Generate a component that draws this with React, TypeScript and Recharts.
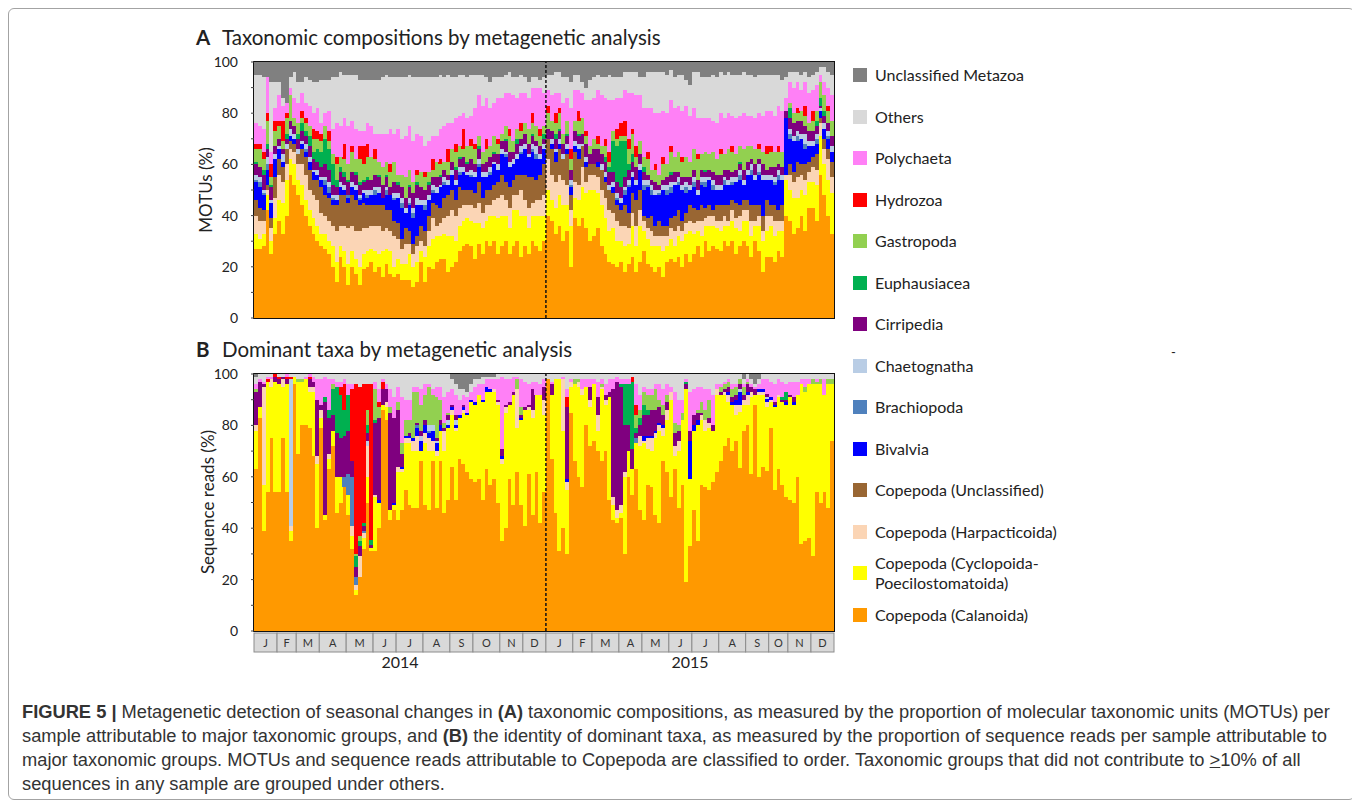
import { Bar, BarChart, ReferenceArea, ReferenceLine, XAxis, YAxis } from "recharts";

// sampling calendar: number of samples in each month, Jan..Dec
const monthLetters = ["J", "F", "M", "A", "M", "J", "J", "A", "S", "O", "N", "D"];
const samples2014 = [6, 5, 6, 7, 7, 6, 7, 7, 6, 7, 6, 6];
const samples2015 = [7, 5, 7, 6, 7, 6, 7, 7, 6, 5, 6, 6];
const yearLabels = ["2014", "2015"];
const yTicks = [0, 0.1, 0.2, 0.3, 0.4, 0.5, 0.6, 0.7, 0.8, 0.9, 1];

// ---- (A) MOTUs per sample, % ----
const motuCal = [
  27, 27, 28, 42, 25, 33, 38, 33, 40, 56, 52, 48, 44, 40, 36, 33, 30, 28, 27, 25, 20, 14, 24, 20, 13, 20, 17, 13, 19, 20, 22, 18, 20, 16, 21, 17, 16, 17, 15, 15, 15, 12, 14, 22, 14, 20, 19, 22, 23, 23, 18, 20, 22, 26, 28, 29, 28, 23, 29, 25, 30, 28, 30, 25, 28, 30, 25, 28, 30, 24, 28, 25, 30, 28, 26, 30,
  40, 38, 33, 36, 30, 34, 20, 39, 36, 39, 35, 30, 32, 35, 28, 25, 22, 21, 20, 22, 18, 21, 24, 18, 22, 26, 21, 20, 18, 20, 16, 22, 23, 22, 24, 20, 25, 22, 25, 28, 24, 30, 26, 28, 27, 26, 30, 28, 30, 25, 28, 30, 28, 24, 30, 26, 18, 24, 24, 22, 26, 24, 40, 38, 33, 35, 40, 34, 43, 43, 38, 56, 48, 40, 33,
];
const motuCyc = [
  6, 4, 5, 6, 5, 6, 8, 12, 14, 6, 8, 6, 8, 6, 6, 6, 6, 5, 6, 5, 8, 8, 4, 6, 8, 6, 6, 7, 6, 6, 5, 8, 5, 10, 6, 9, 4, 6, 6, 6, 10, 8, 8, 4, 10, 8, 12, 10, 9, 10, 14, 12, 8, 10, 10, 10, 10, 14, 8, 10, 8, 12, 10, 14, 12, 10, 10, 14, 12, 16, 12, 10, 10, 12, 14, 10,
  10, 8, 10, 12, 14, 10, 16, 8, 10, 12, 14, 20, 18, 14, 16, 14, 12, 14, 10, 8, 10, 8, 12, 10, 14, 8, 10, 8, 10, 8, 10, 6, 8, 6, 8, 10, 8, 12, 8, 6, 8, 6, 10, 8, 8, 8, 6, 8, 8, 10, 6, 8, 10, 8, 6, 10, 12, 10, 12, 10, 8, 10, 14, 12, 14, 12, 10, 14, 10, 10, 14, 15, 12, 14, 16,
];
const motuHarp = [
  7, 7, 5, 2, 5, 8, 10, 8, 6, 4, 5, 6, 8, 10, 8, 9, 10, 8, 7, 8, 8, 12, 8, 10, 14, 10, 11, 14, 10, 9, 9, 10, 11, 8, 8, 8, 12, 8, 6, 8, 4, 5, 6, 4, 4, 6, 8, 4, 5, 6, 8, 10, 10, 7, 6, 5, 6, 6, 8, 6, 6, 4, 6, 8, 8, 6, 8, 6, 6, 10, 6, 8, 5, 6, 6, 8,
  12, 10, 10, 8, 10, 8, 6, 6, 6, 8, 4, 6, 6, 6, 6, 8, 8, 6, 8, 6, 8, 6, 5, 8, 6, 4, 4, 6, 4, 4, 6, 4, 4, 6, 4, 4, 4, 4, 4, 4, 6, 3, 4, 4, 3, 4, 4, 2, 4, 4, 6, 4, 4, 6, 2, 4, 4, 6, 4, 6, 4, 4, 2, 6, 6, 8, 6, 6, 4, 6, 6, 5, 6, 8, 6,
];
const motuCopU = [
  6, 5, 4, 2, 4, 8, 6, 6, 6, 3, 3, 4, 6, 7, 8, 6, 8, 10, 8, 9, 8, 10, 12, 12, 10, 12, 12, 10, 10, 9, 8, 8, 8, 10, 7, 8, 6, 6, 4, 6, 5, 4, 4, 6, 6, 6, 6, 8, 6, 8, 8, 8, 6, 8, 6, 6, 6, 6, 8, 6, 6, 6, 6, 6, 8, 7, 8, 6, 8, 6, 10, 12, 10, 8, 10, 12,
  8, 10, 8, 10, 8, 12, 6, 12, 10, 8, 6, 4, 4, 4, 8, 6, 8, 8, 6, 6, 8, 6, 8, 10, 8, 2, 4, 6, 4, 6, 4, 4, 4, 6, 6, 4, 4, 6, 6, 4, 6, 4, 4, 2, 6, 6, 4, 6, 4, 6, 4, 4, 4, 6, 6, 4, 6, 6, 4, 6, 4, 6, 0, 4, 4, 6, 4, 6, 4, 4, 6, 2, 4, 4, 6,
];
const motuBiv = [
  7, 8, 6, 6, 6, 7, 4, 2, 0, 2, 2, 0, 2, 2, 3, 3, 2, 3, 4, 2, 2, 2, 3, 2, 2, 3, 4, 2, 4, 3, 4, 4, 5, 3, 6, 6, 8, 10, 12, 6, 10, 10, 12, 8, 8, 6, 4, 5, 8, 5, 4, 6, 6, 5, 7, 6, 5, 6, 6, 8, 5, 6, 8, 5, 8, 10, 8, 6, 6, 8, 10, 8, 10, 8, 6, 6,
  0, 2, 4, 2, 0, 2, 3, 2, 4, 0, 2, 0, 0, 2, 0, 2, 0, 2, 2, 3, 4, 10, 6, 6, 8, 10, 12, 8, 12, 10, 14, 12, 10, 12, 10, 12, 8, 6, 8, 6, 8, 8, 10, 8, 6, 6, 8, 8, 6, 8, 10, 6, 10, 12, 10, 12, 14, 8, 10, 8, 12, 10, 22, 10, 12, 8, 10, 6, 6, 4, 4, 3, 4, 4, 4,
];
const motuBrach = [
  1, 2, 1, 2, 0, 0, 0, 0, 0, 0, 0, 0, 0, 1, 0, 0, 0, 0, 2, 2, 1, 0, 0, 0, 1, 0, 0, 1, 0, 1, 0, 2, 0, 0, 2, 0, 1, 0, 2, 0, 1, 2, 0, 0, 2, 0, 1, 0, 0, 1, 0, 0, 0, 1, 0, 0, 1, 0, 1, 0, 0, 1, 0, 0, 0, 1, 0, 0, 0, 1, 0, 0, 1, 2, 0, 0,
  0, 0, 0, 0, 0, 0, 1, 0, 0, 0, 0, 0, 0, 0, 0, 0, 0, 0, 1, 0, 2, 1, 0, 0, 0, 2, 1, 2, 0, 1, 0, 2, 2, 0, 1, 0, 2, 0, 2, 0, 1, 2, 0, 2, 0, 0, 2, 0, 1, 0, 2, 0, 0, 2, 0, 1, 0, 0, 0, 1, 2, 0, 0, 2, 0, 2, 0, 2, 0, 0, 2, 0, 0, 1, 0,
];
const motuChaet = [
  2, 2, 1, 3, 1, 2, 1, 3, 2, 3, 2, 2, 1, 2, 2, 1, 2, 1, 1, 2, 1, 2, 2, 2, 0, 2, 2, 1, 1, 2, 2, 1, 2, 0, 1, 0, 2, 2, 2, 2, 2, 2, 3, 2, 2, 2, 2, 2, 1, 2, 2, 2, 2, 2, 2, 1, 2, 2, 2, 2, 2, 2, 1, 2, 2, 1, 2, 2, 2, 2, 2, 1, 2, 3, 2, 2,
  0, 2, 1, 2, 2, 2, 2, 2, 2, 1, 2, 0, 0, 0, 2, 2, 2, 2, 2, 2, 1, 2, 2, 2, 2, 2, 2, 2, 2, 1, 2, 2, 2, 1, 2, 2, 2, 2, 2, 2, 2, 2, 1, 2, 2, 2, 1, 2, 2, 2, 2, 2, 2, 2, 2, 3, 2, 2, 2, 2, 2, 2, 0, 2, 2, 2, 2, 4, 2, 2, 2, 1, 2, 2, 2,
];
const motuCirr = [
  4, 4, 6, 3, 5, 3, 3, 2, 2, 3, 3, 4, 4, 3, 4, 4, 3, 4, 5, 5, 4, 3, 4, 3, 5, 4, 4, 4, 3, 4, 4, 5, 4, 5, 4, 3, 4, 3, 4, 4, 4, 6, 5, 5, 4, 4, 3, 4, 3, 3, 2, 3, 4, 3, 4, 3, 4, 3, 4, 3, 4, 4, 3, 4, 3, 4, 4, 3, 4, 3, 4, 4, 3, 2, 3, 2,
  4, 3, 4, 3, 4, 3, 4, 4, 3, 4, 5, 4, 6, 5, 4, 4, 5, 4, 4, 4, 4, 4, 4, 5, 4, 3, 2, 2, 3, 2, 2, 3, 3, 4, 2, 3, 2, 3, 3, 4, 3, 2, 3, 3, 4, 4, 3, 4, 2, 3, 2, 4, 3, 2, 4, 2, 4, 2, 3, 4, 2, 3, 3, 4, 5, 4, 5, 3, 4, 4, 3, 1, 3, 3, 4,
];
const motuEuph = [
  1, 0, 2, 2, 1, 0, 0, 0, 2, 0, 0, 2, 3, 2, 4, 3, 5, 6, 10, 8, 8, 3, 2, 2, 1, 0, 1, 1, 1, 1, 0, 0, 1, 0, 1, 0, 0, 1, 0, 0, 1, 0, 1, 0, 0, 1, 0, 0, 1, 0, 0, 0, 1, 1, 0, 1, 0, 0, 1, 0, 0, 0, 1, 0, 0, 1, 0, 0, 2, 0, 0, 0, 1, 0, 0, 2,
  0, 0, 2, 1, 0, 1, 0, 0, 1, 0, 0, 0, 0, 0, 0, 2, 2, 12, 14, 18, 14, 2, 3, 0, 0, 2, 0, 0, 0, 0, 0, 0, 1, 0, 0, 0, 0, 0, 0, 0, 0, 1, 0, 0, 0, 0, 0, 0, 0, 0, 1, 0, 0, 0, 0, 0, 0, 0, 0, 0, 0, 0, 0, 4, 0, 0, 0, 0, 0, 0, 2, 3, 2, 0, 0,
];
const motuGast = [
  5, 7, 4, 9, 3, 6, 5, 3, 6, 10, 3, 4, 2, 3, 4, 5, 4, 4, 5, 3, 4, 6, 4, 5, 6, 8, 5, 9, 6, 8, 9, 6, 5, 7, 5, 6, 8, 3, 5, 8, 6, 4, 3, 6, 5, 4, 3, 6, 4, 3, 5, 5, 6, 4, 3, 6, 5, 6, 4, 5, 5, 4, 6, 4, 3, 5, 6, 4, 4, 3, 4, 6, 4, 6, 4, 3,
  6, 4, 4, 6, 4, 5, 4, 4, 5, 6, 3, 3, 4, 2, 3, 4, 2, 4, 3, 2, 2, 6, 8, 4, 5, 4, 6, 4, 5, 4, 6, 5, 8, 6, 8, 6, 8, 6, 8, 8, 6, 7, 6, 8, 6, 8, 6, 8, 8, 6, 6, 8, 6, 5, 6, 4, 5, 6, 6, 6, 5, 6, 0, 2, 4, 3, 4, 4, 3, 4, 4, 6, 6, 5, 6,
];
const motuHydro = [
  2, 2, 3, 3, 5, 4, 2, 8, 2, 0, 0, 0, 3, 2, 0, 4, 3, 3, 0, 4, 0, 3, 0, 6, 0, 2, 0, 5, 7, 5, 0, 4, 0, 0, 0, 3, 0, 0, 0, 0, 0, 0, 2, 0, 2, 0, 4, 0, 2, 0, 5, 0, 3, 0, 8, 0, 3, 2, 0, 0, 4, 0, 0, 2, 0, 0, 3, 0, 0, 3, 0, 0, 4, 0, 3, 0,
  3, 0, 4, 2, 0, 0, 4, 0, 4, 0, 2, 0, 0, 3, 0, 3, 4, 0, 4, 5, 6, 4, 2, 4, 0, 0, 3, 0, 2, 0, 3, 0, 2, 0, 0, 2, 0, 0, 0, 2, 0, 0, 0, 0, 0, 2, 0, 0, 2, 0, 0, 0, 0, 0, 0, 2, 0, 3, 2, 0, 2, 0, 0, 0, 0, 2, 0, 4, 0, 4, 0, 0, 0, 2, 0,
];
const motuPoly = [
  8, 7, 9, 14, 5, 5, 10, 6, 4, 3, 8, 8, 7, 6, 8, 6, 9, 4, 5, 8, 10, 13, 12, 10, 15, 10, 12, 6, 6, 8, 12, 6, 11, 13, 11, 14, 11, 18, 14, 16, 17, 16, 14, 14, 10, 12, 9, 10, 12, 14, 10, 10, 10, 12, 6, 11, 9, 14, 16, 18, 16, 15, 13, 16, 14, 13, 14, 18, 12, 12, 12, 12, 10, 15, 16, 13,
  6, 10, 8, 6, 12, 9, 16, 12, 8, 10, 12, 18, 16, 18, 20, 16, 20, 12, 12, 10, 12, 18, 14, 20, 18, 19, 17, 24, 20, 24, 18, 20, 18, 19, 18, 18, 20, 18, 16, 14, 14, 13, 14, 12, 14, 14, 14, 14, 12, 14, 12, 14, 12, 12, 12, 12, 14, 14, 14, 14, 16, 16, 5, 8, 10, 10, 8, 9, 12, 8, 10, 3, 5, 7, 10,
];
const motuOthers = [
  19, 20, 20, 0, 27, 10, 5, 3, 0, 4, 10, 8, 4, 10, 10, 12, 10, 17, 13, 12, 20, 18, 21, 17, 20, 18, 21, 20, 20, 17, 18, 21, 21, 22, 23, 20, 22, 20, 24, 23, 20, 25, 22, 23, 27, 25, 23, 23, 21, 19, 19, 18, 16, 16, 15, 16, 16, 13, 8, 12, 8, 10, 10, 8, 8, 7, 8, 7, 8, 7, 6, 6, 4, 4, 3, 6,
  6, 8, 8, 8, 10, 8, 10, 6, 6, 4, 5, 8, 8, 6, 7, 8, 10, 9, 8, 8, 7, 8, 8, 9, 7, 12, 14, 14, 16, 16, 15, 15, 12, 12, 12, 14, 10, 12, 14, 18, 16, 16, 16, 18, 18, 16, 17, 16, 16, 17, 16, 16, 16, 16, 16, 15, 16, 14, 14, 16, 12, 12, 8, 4, 6, 4, 6, 4, 6, 6, 5, 3, 6, 6, 8,
];
const motuUnMeta = [
  5, 5, 6, 6, 8, 8, 8, 14, 16, 6, 4, 8, 8, 6, 7, 8, 8, 7, 7, 7, 6, 6, 4, 5, 5, 5, 5, 7, 7, 7, 7, 7, 7, 6, 5, 6, 6, 6, 6, 6, 5, 6, 6, 6, 6, 6, 6, 6, 5, 6, 5, 6, 6, 5, 5, 6, 5, 5, 5, 5, 6, 8, 6, 6, 6, 5, 4, 6, 6, 5, 6, 8, 6, 6, 7, 6,
  5, 5, 4, 4, 6, 6, 8, 5, 5, 8, 10, 7, 6, 5, 6, 6, 5, 6, 6, 6, 4, 4, 4, 4, 6, 6, 4, 4, 4, 4, 4, 5, 3, 6, 5, 5, 7, 9, 4, 4, 6, 6, 6, 5, 6, 4, 5, 4, 5, 5, 5, 4, 5, 5, 6, 5, 5, 5, 5, 5, 5, 7, 6, 4, 4, 4, 5, 4, 6, 5, 4, 2, 2, 4, 5,
];

// ---- (B) sequence reads per sample, % ----
const readsCal = [
  63, 83, 39, 54, 75, 54, 54, 75, 54, 35, 96, 69, 80, 80, 79, 68, 40, 79, 43, 63, 72, 46, 50, 56, 45, 32, 14, 21, 32, 50, 31, 31, 40, 86, 82, 43, 47, 43, 47, 55, 49, 48, 48, 66, 49, 47, 66, 48, 66, 46, 51, 64, 51, 67, 65, 62, 59, 58, 59, 51, 63, 57, 59, 50, 35, 40, 59, 49, 62, 49, 41, 61, 45, 62, 42, 54,
  98, 67, 46, 31, 40, 30, 85, 66, 60, 56, 80, 72, 74, 70, 66, 70, 51, 43, 42, 44, 30, 60, 53, 63, 47, 43, 57, 56, 45, 42, 66, 62, 52, 63, 48, 57, 19, 33, 47, 35, 57, 56, 55, 58, 62, 66, 72, 75, 70, 74, 64, 78, 80, 61, 88, 60, 64, 63, 79, 55, 63, 57, 52, 51, 50, 60, 34, 35, 36, 29, 54, 50, 54, 48, 74,
];
const readsCyc = [
  15, 4, 18, 43, 20, 43, 42, 20, 42, 4, 3, 28, 17, 18, 14, 25, 25, 4, 2, 4, 6, 14, 10, 0, 8, 5, 2, 0, 4, 10, 1, 21, 10, 2, 5, 4, 2, 19, 15, 18, 24, 22, 22, 4, 24, 23, 4, 20, 12, 24, 28, 20, 27, 16, 20, 22, 30, 30, 33, 38, 30, 36, 34, 38, 30, 45, 29, 43, 17, 33, 45, 25, 38, 30, 50, 30,
  0, 25, 52, 67, 38, 25, 10, 30, 35, 36, 15, 15, 22, 8, 28, 18, 40, 6, 2, 2, 30, 10, 10, 10, 25, 30, 14, 14, 30, 36, 10, 20, 38, 5, 22, 25, 75, 26, 31, 45, 25, 22, 24, 20, 30, 26, 20, 14, 18, 10, 22, 10, 8, 30, 4, 32, 28, 25, 10, 32, 28, 32, 36, 40, 38, 32, 62, 58, 60, 67, 42, 46, 38, 48, 22,
];
const readsHarp = [
  2, 0, 38, 0, 3, 0, 0, 3, 0, 2, 0, 0, 0, 0, 2, 2, 3, 3, 0, 2, 0, 0, 0, 0, 0, 4, 2, 8, 2, 12, 0, 1, 0, 0, 2, 0, 0, 2, 1, 2, 2, 4, 6, 0, 4, 5, 4, 2, 0, 8, 0, 2, 1, 0, 1, 0, 0, 0, 0, 0, 0, 0, 1, 1, 2, 2, 0, 0, 15, 0, 0, 1, 3, 0, 0, 6,
  0, 0, 0, 0, 20, 3, 2, 0, 2, 2, 0, 3, 0, 6, 1, 2, 0, 3, 3, 3, 2, 0, 0, 0, 4, 1, 4, 5, 2, 2, 3, 4, 3, 4, 4, 0, 0, 0, 0, 0, 2, 4, 2, 0, 2, 0, 1, 3, 0, 4, 3, 2, 4, 2, 0, 1, 1, 2, 1, 0, 1, 0, 0, 0, 0, 0, 0, 0, 0, 0, 0, 0, 0, 0, 0,
];
const readsBiv = [
  0, 0, 0, 0, 0, 0, 0, 0, 0, 0, 0, 0, 0, 0, 0, 0, 0, 0, 0, 0, 0, 0, 0, 0, 0, 0, 0, 0, 0, 0, 0, 0, 1, 0, 0, 0, 1, 0, 1, 1, 1, 1, 3, 4, 3, 2, 4, 3, 2, 0, 1, 1, 1, 1, 1, 1, 1, 1, 0, 1, 2, 1, 0, 0, 1, 0, 0, 0, 0, 1, 0, 0, 0, 0, 0, 0,
  0, 0, 0, 0, 0, 1, 0, 0, 0, 0, 0, 0, 0, 0, 0, 0, 0, 0, 0, 0, 0, 0, 0, 0, 0, 2, 1, 1, 1, 1, 1, 0, 0, 0, 0, 0, 0, 15, 2, 2, 0, 0, 0, 0, 0, 0, 0, 1, 1, 2, 5, 0, 1, 0, 0, 1, 1, 1, 1, 1, 0, 0, 1, 0, 1, 0, 0, 0, 0, 0, 0, 0, 0, 0, 0,
];
const readsBrach = [
  0, 0, 0, 0, 0, 0, 0, 0, 0, 0, 0, 0, 0, 0, 0, 0, 0, 0, 0, 0, 0, 0, 0, 4, 8, 19, 3, 0, 1, 0, 0, 0, 0, 0, 0, 0, 0, 0, 0, 0, 0, 0, 1, 0, 0, 1, 0, 0, 0, 0, 0, 0, 0, 0, 0, 0, 0, 0, 0, 0, 0, 0, 0, 0, 0, 0, 0, 0, 0, 0, 0, 0, 0, 0, 0, 0,
  0, 0, 0, 0, 0, 0, 0, 0, 0, 0, 0, 0, 0, 0, 0, 0, 0, 0, 0, 0, 0, 0, 0, 2, 0, 0, 0, 0, 0, 0, 0, 0, 0, 0, 0, 0, 0, 0, 0, 0, 0, 0, 0, 0, 0, 0, 0, 0, 0, 0, 0, 0, 0, 0, 0, 0, 0, 0, 0, 0, 0, 0, 0, 0, 0, 0, 0, 0, 0, 0, 0, 0, 0, 0, 0,
];
const readsChaet = [
  0, 0, 0, 0, 0, 0, 0, 0, 0, 57, 0, 0, 0, 0, 0, 0, 0, 0, 0, 0, 0, 0, 0, 0, 0, 0, 0, 0, 0, 2, 0, 0, 0, 0, 0, 0, 0, 0, 0, 0, 0, 0, 0, 2, 0, 2, 2, 1, 0, 0, 2, 0, 2, 0, 0, 0, 0, 0, 0, 0, 0, 0, 0, 0, 0, 0, 0, 0, 0, 0, 0, 0, 0, 0, 0, 0,
  0, 0, 0, 0, 0, 0, 0, 0, 0, 0, 0, 0, 0, 0, 0, 0, 0, 0, 0, 0, 0, 0, 0, 0, 0, 0, 0, 0, 0, 0, 0, 0, 0, 0, 0, 0, 0, 0, 0, 0, 0, 0, 0, 0, 0, 0, 0, 0, 0, 0, 1, 0, 0, 0, 0, 0, 0, 1, 0, 0, 0, 0, 0, 0, 0, 0, 0, 0, 0, 0, 0, 0, 0, 0, 0,
];
const readsCirr = [
  13, 10, 1, 0, 0, 2, 2, 1, 2, 0, 0, 0, 0, 0, 3, 2, 22, 2, 44, 14, 6, 17, 15, 16, 17, 6, 4, 4, 2, 3, 1, 28, 32, 6, 5, 38, 33, 22, 5, 0, 1, 0, 1, 2, 2, 0, 0, 1, 2, 1, 2, 1, 2, 0, 1, 0, 0, 0, 0, 0, 0, 0, 0, 1, 3, 1, 1, 1, 0, 1, 1, 1, 8, 0, 0, 5,
  0, 4, 0, 0, 0, 28, 0, 0, 0, 0, 0, 5, 0, 7, 0, 2, 2, 42, 50, 46, 18, 10, 8, 2, 4, 8, 8, 10, 8, 6, 4, 3, 0, 5, 4, 0, 2, 4, 4, 3, 1, 0, 2, 2, 0, 1, 1, 2, 2, 2, 2, 2, 3, 2, 2, 0, 0, 1, 0, 1, 0, 1, 1, 1, 2, 0, 0, 0, 0, 0, 0, 0, 0, 0, 0,
];
const readsEuph = [
  0, 0, 0, 0, 0, 0, 0, 0, 0, 0, 0, 0, 0, 0, 0, 0, 0, 0, 2, 3, 10, 18, 17, 10, 14, 0, 4, 2, 1, 3, 2, 1, 0, 0, 0, 0, 0, 0, 0, 0, 0, 0, 0, 0, 0, 0, 0, 0, 0, 0, 0, 0, 0, 0, 0, 0, 0, 0, 0, 0, 0, 0, 0, 0, 0, 0, 0, 0, 0, 0, 0, 0, 0, 0, 0, 0,
  0, 0, 0, 0, 0, 0, 0, 0, 0, 0, 0, 0, 0, 0, 0, 0, 0, 0, 0, 1, 16, 16, 26, 2, 3, 4, 2, 0, 0, 0, 0, 0, 0, 0, 0, 0, 1, 0, 0, 0, 0, 0, 0, 0, 0, 0, 0, 0, 0, 0, 0, 0, 0, 0, 0, 0, 0, 0, 0, 0, 0, 1, 3, 0, 0, 0, 0, 0, 0, 0, 0, 0, 0, 0, 0,
];
const readsGast = [
  1, 0, 0, 0, 0, 0, 0, 0, 0, 0, 0, 1, 1, 0, 0, 0, 0, 0, 0, 0, 2, 0, 0, 0, 0, 0, 1, 2, 0, 6, 0, 12, 4, 0, 0, 2, 0, 3, 4, 6, 5, 18, 12, 10, 10, 15, 12, 16, 8, 2, 1, 0, 0, 0, 0, 0, 0, 0, 0, 0, 0, 0, 0, 0, 0, 0, 0, 0, 4, 3, 0, 0, 0, 0, 0, 0,
  0, 0, 0, 0, 0, 0, 0, 2, 1, 0, 0, 0, 0, 0, 1, 0, 0, 0, 0, 0, 0, 0, 0, 5, 3, 5, 6, 6, 8, 3, 4, 3, 0, 4, 2, 3, 0, 0, 0, 1, 4, 4, 7, 0, 0, 2, 2, 2, 3, 3, 2, 3, 1, 0, 0, 0, 0, 0, 0, 0, 0, 0, 0, 0, 0, 0, 0, 2, 0, 2, 1, 2, 0, 2, 2,
];
const readsHydro = [
  0, 0, 0, 1, 0, 1, 1, 0, 1, 1, 0, 0, 0, 0, 1, 0, 0, 0, 0, 0, 0, 0, 3, 10, 0, 28, 66, 58, 54, 10, 60, 0, 2, 3, 0, 0, 0, 0, 0, 0, 0, 0, 0, 0, 0, 0, 0, 0, 0, 0, 0, 0, 0, 0, 0, 0, 0, 0, 0, 0, 0, 0, 0, 0, 0, 0, 0, 0, 0, 0, 0, 0, 0, 0, 0, 0,
  0, 0, 0, 0, 0, 4, 0, 0, 0, 0, 0, 0, 0, 0, 0, 0, 0, 0, 0, 0, 0, 0, 2, 4, 0, 0, 0, 0, 0, 0, 0, 0, 0, 0, 0, 0, 0, 0, 0, 0, 0, 0, 0, 0, 0, 0, 0, 0, 0, 0, 0, 0, 0, 0, 0, 0, 0, 0, 0, 0, 0, 0, 0, 0, 0, 0, 0, 0, 0, 0, 0, 0, 0, 0, 0,
];
const readsPoly = [
  2, 1, 1, 1, 1, 0, 0, 0, 1, 0, 0, 0, 0, 1, 1, 2, 8, 10, 8, 12, 2, 2, 2, 2, 4, 2, 0, 0, 0, 0, 0, 3, 5, 1, 2, 7, 8, 6, 18, 8, 8, 2, 2, 6, 4, 1, 2, 4, 5, 10, 8, 6, 8, 6, 4, 6, 3, 6, 4, 6, 3, 4, 4, 8, 28, 10, 9, 6, 1, 11, 10, 8, 3, 5, 4, 3,
  0, 1, 0, 0, 1, 3, 1, 0, 0, 4, 3, 3, 2, 6, 2, 4, 5, 4, 2, 2, 2, 2, 0, 8, 6, 2, 2, 2, 2, 6, 6, 4, 2, 12, 10, 5, 1, 15, 10, 9, 6, 8, 4, 12, 2, 1, 1, 1, 2, 1, 0, 1, 1, 1, 1, 2, 4, 6, 6, 7, 6, 6, 3, 5, 6, 5, 2, 3, 2, 0, 1, 0, 6, 0, 0,
];
const readsOthers = [
  3, 2, 3, 1, 1, 0, 1, 1, 0, 1, 1, 2, 2, 1, 0, 1, 2, 2, 1, 2, 2, 3, 3, 2, 4, 4, 4, 5, 4, 4, 4, 3, 6, 2, 4, 6, 9, 5, 9, 10, 10, 5, 5, 6, 4, 4, 6, 5, 5, 9, 7, 4, 4, 4, 2, 2, 3, 3, 2, 3, 1, 1, 1, 2, 1, 2, 2, 1, 1, 2, 3, 4, 3, 3, 4, 2,
  2, 3, 2, 2, 1, 6, 2, 2, 2, 2, 2, 2, 2, 3, 2, 4, 2, 2, 1, 2, 2, 2, 1, 4, 8, 5, 6, 6, 4, 4, 6, 4, 5, 7, 10, 10, 2, 7, 6, 5, 5, 6, 6, 8, 4, 4, 3, 2, 4, 4, 2, 2, 2, 2, 1, 2, 2, 2, 3, 4, 2, 3, 4, 3, 3, 3, 2, 2, 2, 2, 2, 2, 2, 2, 2,
];
const readsUnMeta = [
  1, 0, 0, 0, 0, 0, 0, 0, 0, 0, 0, 0, 0, 0, 0, 0, 0, 0, 0, 0, 0, 0, 0, 0, 0, 0, 0, 0, 0, 0, 0, 0, 0, 0, 0, 0, 0, 0, 0, 0, 0, 0, 0, 0, 0, 0, 0, 0, 0, 0, 0, 2, 4, 6, 6, 7, 4, 2, 2, 1, 1, 1, 1, 0, 0, 0, 0, 0, 0, 0, 0, 0, 0, 0, 0, 0,
  0, 0, 0, 0, 0, 0, 0, 0, 0, 0, 0, 0, 0, 0, 0, 0, 0, 0, 0, 0, 0, 0, 0, 0, 0, 0, 0, 0, 0, 0, 0, 0, 0, 0, 0, 0, 0, 0, 0, 0, 0, 0, 0, 0, 0, 0, 0, 0, 0, 0, 0, 2, 0, 2, 4, 2, 0, 0, 0, 0, 0, 0, 0, 0, 0, 0, 0, 0, 0, 0, 0, 0, 0, 0, 0,
];

// stacking order, bottom to top
const taxa = [
  { key: "cal", name: "Copepoda (Calanoida)", color: "#ff9900" },
  { key: "cyc", name: "Copepoda (Cyclopoida-\nPoecilostomatoida)", color: "#ffff00" },
  { key: "harp", name: "Copepoda (Harpacticoida)", color: "#fbd5b5" },
  { key: "copU", name: "Copepoda (Unclassified)", color: "#996633" },
  { key: "biv", name: "Bivalvia", color: "#0000ff" },
  { key: "brach", name: "Brachiopoda", color: "#4f81bd" },
  { key: "chaet", name: "Chaetognatha", color: "#b9cde5" },
  { key: "cirr", name: "Cirripedia", color: "#7f007f" },
  { key: "euph", name: "Euphausiacea", color: "#00b050" },
  { key: "gast", name: "Gastropoda", color: "#92d050" },
  { key: "hydro", name: "Hydrozoa", color: "#ff0000" },
  { key: "poly", name: "Polychaeta", color: "#ff80f6" },
  { key: "others", name: "Others", color: "#d9d9d9" },
  { key: "unMeta", name: "Unclassified Metazoa", color: "#808080" },
];

const motuSeries: Record<string, number[]> = {
  cal: motuCal, cyc: motuCyc, harp: motuHarp, copU: motuCopU, biv: motuBiv, brach: motuBrach, chaet: motuChaet,
  cirr: motuCirr, euph: motuEuph, gast: motuGast, hydro: motuHydro, poly: motuPoly, others: motuOthers, unMeta: motuUnMeta,
};
const readsSeries: Record<string, number[]> = {
  cal: readsCal, cyc: readsCyc, harp: readsHarp, biv: readsBiv, brach: readsBrach, chaet: readsChaet,
  cirr: readsCirr, euph: readsEuph, gast: readsGast, hydro: readsHydro, poly: readsPoly, others: readsOthers, unMeta: readsUnMeta,
};

function toRows(series: Record<string, number[]>) {
  return series.cal.map((_, i) => {
    const row: Record<string, number> = { idx: i };
    for (const key of Object.keys(series)) row[key] = series[key][i] ?? 0;
    return row;
  });
}

const motuRows = toRows(motuSeries);
const readsRows = toRows(readsSeries);

// month cells of the date strip, with the year caption on each January
type MonthCell = { start: number; count: number; letter: string; year?: { label: string; span: number } };
const monthCells: MonthCell[] = [];
{
  let start = 0;
  [samples2014, samples2015].forEach((counts, y) => {
    const span = counts.reduce((a, b) => a + b, 0);
    counts.forEach((count, m) => {
      monthCells.push({ start, count, letter: monthLetters[m], year: m === 0 ? { label: yearLabels[y], span } : undefined });
      start += count;
    });
  });
}
const yearBoundary = samples2014.reduce((a, b) => a + b, 0);

const CHART_W = 840;
const MARGIN_LEFT = 200;
const MARGIN_RIGHT = 15;
const Y_AXIS_W = 45;
const PLOT_W = CHART_W - MARGIN_LEFT - MARGIN_RIGHT - Y_AXIS_W;
const BAND_W = PLOT_W / motuRows.length;

const FONT = "Lato, 'Noto Sans', sans-serif";

const pctLabel = (v: number) => {
  const p = Math.round(v * 100);
  return p % 20 === 0 ? String(p) : "";
};

function MonthTick(props: any) {
  const { x, y, payload } = props;
  const cell = monthCells.find((c) => c.start === payload.value);
  if (!cell) return null;
  const left = x - BAND_W / 2;
  const width = cell.count * BAND_W;
  return (
    <g>
      <rect x={left} y={y + 2} width={width} height={19} fill="#d9d9d9" stroke="#8c8c8c" strokeWidth={1} />
      <text x={left + width / 2} y={y + 16} textAnchor="middle" fontSize={11} fill="#333" fontFamily={FONT}>
        {cell.letter}
      </text>
      {cell.year && (
        <text x={left + (cell.year.span * BAND_W) / 2} y={y + 37} textAnchor="middle" fontSize={16} fill="#222" fontFamily={FONT}>
          {cell.year.label}
        </text>
      )}
    </g>
  );
}

function StackPanel({
  rows,
  keys,
  height,
  top,
  bottom,
  withDates,
}: {
  rows: Record<string, number>[];
  keys: string[];
  height: number;
  top: number;
  bottom: number;
  withDates: boolean;
}) {
  return (
    <BarChart
      width={CHART_W}
      height={height}
      data={rows}
      stackOffset="expand"
      barCategoryGap={0}
      barGap={0}
      margin={{ top, right: MARGIN_RIGHT, bottom, left: MARGIN_LEFT }}
      style={{ fontFamily: FONT }}
    >
      {withDates ? (
        <XAxis
          dataKey="idx"
          type="category"
          ticks={monthCells.map((c) => c.start)}
          interval={0}
          tick={(p: any) => <MonthTick {...p} />}
          tickLine={false}
          axisLine={false}
          tickSize={0}
          tickMargin={0}
          height={38}
        />
      ) : (
        <XAxis dataKey="idx" type="category" hide />
      )}
      <YAxis
        type="number"
        domain={[0, 1]}
        ticks={yTicks}
        tickFormatter={pctLabel}
        width={Y_AXIS_W}
        axisLine={false}
        tickLine={{ stroke: "#444" }}
        tickSize={3}
        tickMargin={13}
        tick={{ fontSize: 14, fill: "#222" }}
      />
      {taxa
        .filter((t) => keys.includes(t.key))
        .map((t) => (
          <Bar key={t.key} dataKey={t.key} name={t.name} stackId="taxa" fill={t.color} isAnimationActive={false} />
        ))}
      <ReferenceLine x={yearBoundary} position="start" stroke="#111" strokeWidth={1.5} strokeDasharray="3 2" />
      <ReferenceArea y1={0} y2={1} fill="none" stroke="#111" strokeWidth={2} ifOverflow="visible" />
    </BarChart>
  );
}

export default function App() {
  const legendItems = [...taxa].reverse();
  return (
    <div
      style={{
        position: "relative",
        width: 1345,
        height: 790,
        border: "1px solid #a3a3a3",
        borderRadius: 6,
        fontFamily: FONT,
        color: "#222",
        background: "#fff",
      }}
    >
      <style>{`.recharts-bar-rectangle path { shape-rendering: crispEdges; }`}</style>

      <div style={{ position: "absolute", left: 187, top: 16, fontSize: 20.5, lineHeight: "24px", whiteSpace: "nowrap" }}>
        <b>A</b>
        <span style={{ position: "absolute", left: 26 }}>Taxonomic compositions by metagenetic analysis</span>
      </div>
      <div style={{ position: "absolute", left: 187, top: 328, fontSize: 20.5, lineHeight: "24px", whiteSpace: "nowrap" }}>
        <b>B</b>
        <span style={{ position: "absolute", left: 26 }}>Dominant taxa by metagenetic analysis</span>
      </div>

      <div
        style={{
          position: "absolute",
          left: 196,
          top: 181,
          transform: "translate(-50%, -50%) rotate(-90deg)",
          fontSize: 17,
          whiteSpace: "nowrap",
        }}
      >
        MOTUs (%)
      </div>
      <div
        style={{
          position: "absolute",
          left: 198,
          top: 493,
          transform: "translate(-50%, -50%) rotate(-90deg)",
          fontSize: 17,
          whiteSpace: "nowrap",
        }}
      >
        Sequence reads (%)
      </div>

      <div style={{ position: "absolute", left: 0, top: 0 }}>
        <StackPanel rows={motuRows} keys={Object.keys(motuSeries)} height={330} top={53} bottom={21} withDates={false} />
      </div>
      <div style={{ position: "absolute", left: 0, top: 320 }}>
        <StackPanel rows={readsRows} keys={Object.keys(readsSeries)} height={370} top={45} bottom={30} withDates />
      </div>

      {legendItems.map((t, k) => {
        const cy = 66 + 41.5 * k;
        return (
          <div key={t.key}>
            <div
              style={{ position: "absolute", left: 844, top: cy - 7, width: 14, height: 14, background: t.color }}
            />
            <div
              style={{
                position: "absolute",
                left: 866,
                top: cy,
                transform: "translateY(-50%)",
                fontSize: 16,
                lineHeight: "20px",
                whiteSpace: "pre",
                color: "#222",
              }}
            >
              {t.name}
            </div>
          </div>
        );
      })}
      <div style={{ position: "absolute", left: 1162, top: 335, fontSize: 13 }}>-</div>

      <div
        style={{
          position: "absolute",
          left: 13,
          top: 691,
          width: 1325,
          fontFamily: "'Liberation Sans', Arial, sans-serif",
          fontSize: 18.3,
          lineHeight: "24px",
          color: "#333",
          whiteSpace: "nowrap",
        }}
      >
        <b>FIGURE 5 |</b> Metagenetic detection of seasonal changes in <b>(A)</b> taxonomic compositions, as measured by the
        proportion of molecular taxonomic units (MOTUs) per
        <br />
        sample attributable to major taxonomic groups, and <b>(B)</b> the identity of dominant taxa, as measured by the
        proportion of sequence reads per sample attributable to
        <br />
        major taxonomic groups. MOTUs and sequence reads attributable to Copepoda are classified to order. Taxonomic groups
        that did not contribute to <span style={{ textDecoration: "underline" }}>&gt;</span>10% of all
        <br />
        sequences in any sample are grouped under others.
      </div>
    </div>
  );
}
